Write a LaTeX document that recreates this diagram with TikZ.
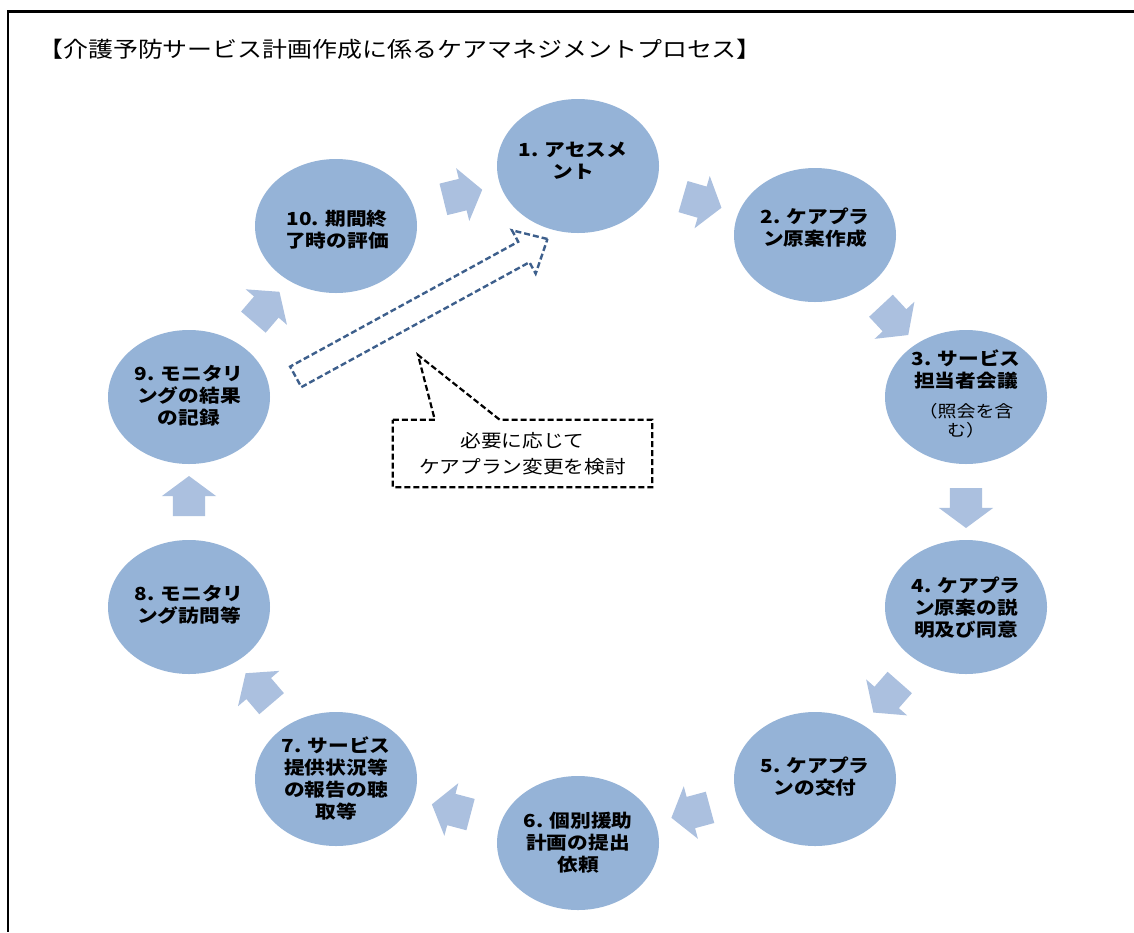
\documentclass[tikz,border=0pt]{standalone}
\usepackage{fontspec}
\usetikzlibrary{shapes.geometric,shapes.arrows,calc}
\newfontfamily\jp[FakeStretch=1.15]{Noto Sans CJK JP}
\definecolor{circfill}{HTML}{95B3D7}
\definecolor{arrfill}{HTML}{ABC0DF}
\definecolor{dashblue}{HTML}{3D5F8C}
\tikzset{
  stage/.style={ellipse, fill=circfill, draw=none, minimum width=162pt, minimum height=134pt, inner sep=0pt},
  stagetext/.style={align=center, font=\jp\bfseries\fontsize{18}{22}\selectfont, inner sep=0pt},
  notetext/.style={align=center, font=\jp\fontsize{16.5}{19}\selectfont, inner sep=0pt},
  flowarrow/.style={single arrow, fill=arrfill, draw=none, inner xsep=0pt, inner ysep=16pt,
    minimum width=0pt, minimum height=40pt, single arrow head extend=11pt,
    single arrow tip angle=107, sloped, allow upside down, anchor=center},
  hollowarrow/.style={single arrow, draw=dashblue, dash pattern=on 6pt off 3pt, line width=2.4pt,
    fill=none, inner xsep=0pt, inner ysep=10.5pt, minimum width=0pt, minimum height=287pt,
    single arrow head extend=13pt, single arrow tip angle=85, sloped, allow upside down, anchor=center},
  calltext/.style={align=center, font=\jp\fontsize{18}{26}\selectfont, minimum width=259pt,
    minimum height=67pt, inner sep=0pt},
  calloutline/.style={draw=black, line width=2.2pt, dash pattern=on 6pt off 3pt},
  titletext/.style={font=\jp\fontsize{21.7}{24}\selectfont, inner sep=0pt, anchor=west}
}
\begin{document}
\begin{tikzpicture}[x=1pt,y=-1pt]
\useasboundingbox (0,0) rectangle (1134,932);
\fill[white] (0,0) rectangle (1134,932);
% frame
\draw[line width=3pt] (7,11) -- (1134,11);
\draw[line width=2pt] (8,11) -- (8,932);
% title
\node[titletext] (title) at (38,49) {【介護予防サービス計画作成に係るケアマネジメントプロセス】};
% stages
\node[stage] (c1) at (578,166) {};
\node[stage] (c2) at (815,235) {};
\node[stage] (c3) at (966,397) {};
\node[stage] (c4) at (966,607) {};
\node[stage] (c5) at (815,779) {};
\node[stage] (c6) at (578,843) {};
\node[stage] (c7) at (336,779) {};
\node[stage] (c8) at (189,607) {};
\node[stage] (c9) at (189,397) {};
\node[stage] (c10) at (336,226) {};
% texts
\node[stagetext] (t1) at (573,161) {1. アセスメ\\ント};
\node[stagetext] (t2) at (815,228) {2. ケアプラ\\ン原案作成};
\node[stagetext] (t3) at (966,370) {3. サービス\\担当者会議};
\node[notetext] (t3b) at (966,421) {（照会を含\\む）};
\node[stagetext] (t4) at (966,608) {4. ケアプラ\\ン原案の説\\明及び同意};
\node[stagetext] (t5) at (815,777) {5. ケアプラ\\ンの交付};
\node[stagetext] (t6) at (578,843) {6. 個別援助\\計画の提出\\依頼};
\node[stagetext] (t7) at (336,778) {7. サービス\\提供状況等\\の報告の聴\\取等};
\node[stagetext] (t8) at (189,605) {8. モニタリ\\ング訪問等};
\node[stagetext] (t9) at (189,396) {9. モニタリ\\ングの結果\\の記録};
\node[stagetext] (t10) at (337,230) {10. 期間終\\了時の評価};
% cycle arrows
\foreach \a/\b in {c10/c1, c1/c2, c2/c3, c3/c4, c4/c5, c5/c6, c6/c7, c7/c8, c8/c9, c9/c10}{
  \path (\a.center) -- (\b.center) node[flowarrow, midway] {};
}
% dashed feedback arrow
\coordinate (dtail) at (290,380);
\coordinate (dtip) at (542,242);
\path (dtail) -- (dtip) node[hollowarrow, midway] (fb) {};
% callout
\node[calltext] (cb) at (522.5,453.5) {必要に応じて\\ケアプラン変更を検討};
\coordinate (ctip) at (418,355);
\draw[calloutline] (cb.north west) -- ($(cb.north west)+(42,0)$) -- (ctip) -- ($(cb.north west)+(107,0)$) -- (cb.north east) -- (cb.south east) -- (cb.south west) -- cycle;
\end{tikzpicture}
\end{document}
